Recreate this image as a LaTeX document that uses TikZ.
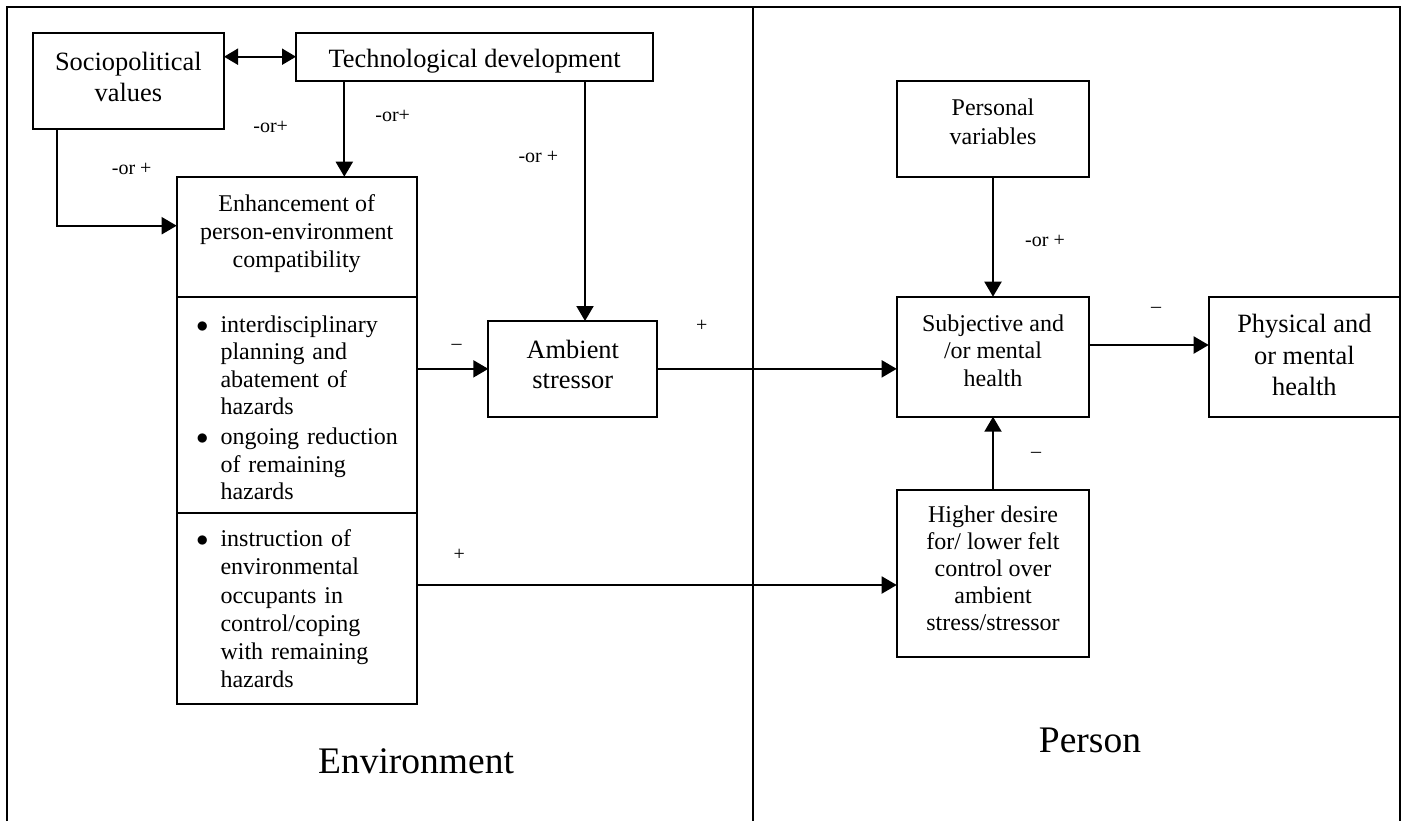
\documentclass[tikz,border=0pt]{standalone}
\usepackage{fontspec}
\setmainfont{Liberation Serif}
\usetikzlibrary{arrows.meta,calc}

% zero-width struts that shift a node's text up (extra depth) or down (extra height)
\newcommand\padB[1]{\rule[-#1]{0pt}{#1}}
\newcommand\padT[1]{\rule{0pt}{#1}}
% bullet item helpers: a bulleted line and an indented continuation line
\newcommand\bul[1]{\mbox{\makebox[11.5pt][l]{\hspace*{-0.6pt}$\bullet$}#1}}
\newcommand\ind[1]{\mbox{\hspace*{11.5pt}#1}}

\begin{document}
\begin{tikzpicture}[x=0.5pt,y=-0.5pt,
  every node/.style={inner sep=0pt,outer sep=0pt},
  fs/.style 2 args={font=\fontsize{#1}{#2}\selectfont},
  box/.style={draw,line width=1pt,anchor=north west,align=center},
  lbl/.style={fs={10pt}{12pt}},
  side/.style={fs={18.75pt}{22pt}},
  frameline/.style={line width=1pt},
  arr/.style={line width=1pt,-{Triangle[length=7.5pt,width=8.5pt]}},
  dbl/.style={line width=1pt,{Triangle[length=7pt,width=8pt]}-{Triangle[length=7pt,width=8pt]}}]

\useasboundingbox (0,0) rectangle (1403,821);

% outer frame and the divider between the two halves
\draw[frameline] (7.3,821) -- (7.3,7.3) -- (1400,7.3) -- (1400,821);
\draw[frameline] (753.3,7.3) -- (753.3,821);

% environment side
\node[box,fs={13.2pt}{15.5pt},minimum width=95.65pt,minimum height=48.15pt]
  (socio) at (32.7,32.7) {Sociopolitical\\values\padB{4.4pt}};
\node[box,fs={13.2pt}{15.5pt},minimum width=178.65pt,minimum height=24pt]
  (tech) at (296,32.7) {\padT{13.2pt}Technological development};

\node[box,fs={12pt}{14pt},minimum width=120pt,minimum height=60pt]
  (enhtop) at (176.7,176.7) {Enhancement of\\person-environment\\compatibility\padB{5.3pt}};
\node[box,fs={12pt}{13.75pt},minimum width=120pt,minimum height=108.3pt,
      text width=99.2pt,inner xsep=10.4pt,align=left]
  (enhmid) at (176.7,296.7)
  {\padT{11.2pt}\bul{interdisciplinary}\\
   \ind{planning and}\\
   \ind{abatement of}\\
   \ind{hazards}\\[1.25pt]
   \bul{ongoing reduction}\\
   \ind{of remaining}\\
   \ind{hazards}};
\node[box,fs={12pt}{14.05pt},minimum width=120pt,minimum height=95.5pt,
      text width=99.2pt,inner xsep=10.4pt,align=left]
  (enhbot) at (176.7,513.3)
  {\bul{instruction of}\\
   \ind{environmental}\\
   \ind{occupants in}\\
   \ind{control/coping}\\
   \ind{with remaining}\\
   \ind{hazards}};

\node[box,fs={13.2pt}{15pt},minimum width=84.5pt,minimum height=47.85pt]
  (amb) at (488.3,321) {Ambient\\stressor\padB{4.85pt}};

% person side
\node[box,fs={12pt}{14.2pt},minimum width=96.3pt,minimum height=48pt]
  (pers) at (896.7,80.7) {Personal\\variables\padB{7.2pt}};
\node[box,fs={12pt}{13.9pt},minimum width=96.3pt,minimum height=60pt]
  (subj) at (896.7,296.7) {Subjective and\\/or mental\\health\padB{6.1pt}};
\node[box,fs={13.2pt}{15.85pt},minimum width=95.65pt,minimum height=60pt]
  (phys) at (1208.7,296.7) {Physical and\\or mental\\health\padB{1.7pt}};
\node[box,fs={12pt}{13.45pt},minimum width=96.3pt,minimum height=83.35pt]
  (higher) at (896.7,490)
  {Higher desire\\for/ lower felt\\control over\\ambient\\stress/stressor\padB{5pt}};

% connector start points
\coordinate (tA) at ($(tech.south west)+(48.3,0)$);
\coordinate (tB) at ($(tech.south west)+(289,0)$);
\coordinate (bA) at ($(enhbot.east)+(0,-23.8)$);
\coordinate (sA) at ($(subj.east)+(0,-11.7)$);

% connectors
\draw[dbl] (tech.west -| socio.east) -- (tech.west);
\draw[arr] ($(socio.south west)+(24,0)$) |- ($(enhtop.west)+(0,-11)$);
\draw[arr] (tA) -- (tA |- enhtop.north);
\draw[arr] (tB) -- (tB |- amb.north);
\draw[arr] (enhmid.east |- amb.west) -- (amb.west);
\draw[arr] (amb.east) -- (amb.east -| subj.west);
\draw[arr] (bA) -- (bA -| higher.west);
\draw[arr] (pers.south) -- (subj.north);
\draw[arr] (higher.north) -- (subj.south);
\draw[arr] (sA) -- (sA -| phys.west);

% signs on the links
\node[lbl] (l1) at (131.7,169.3) {-or +};
\node[lbl] (l2) at (270.7,127.3) {-or+};
\node[lbl] (l3) at (392.7,115.7) {-or+};
\node[lbl] (l4) at (538.3,156.7) {-or +};
\node[lbl] (l5) at (1045,240.7) {-or +};
\node[lbl] (l6) at (456.7,346.7) {–};
\node[lbl] (l7) at (701.7,326) {+};
\node[lbl] (l8) at (1156,310) {–};
\node[lbl] (l9) at (1036,455) {–};
\node[lbl] (l10) at (459.3,555) {+};

% side titles
\node[side] (env) at (416,761.7) {Environment};
\node[side] (person) at (1090,740) {Person};
\end{tikzpicture}
\end{document}
